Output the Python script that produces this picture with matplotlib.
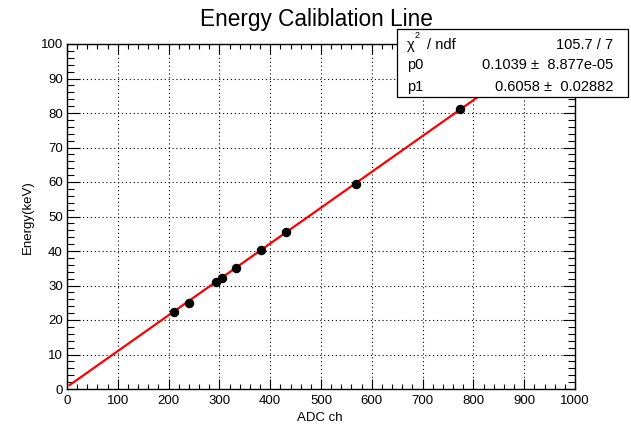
import numpy as np
import matplotlib.pyplot as plt
from matplotlib.patches import Rectangle
from matplotlib.ticker import MultipleLocator

plt.rcParams['font.family'] = ['Liberation Sans', 'DejaVu Sans']

# calibration points: ADC channel vs known energy
adc_ch = [211, 241, 293, 305, 333, 381, 432, 569, 773]
energy_kev = [22.3, 24.9, 31.0, 32.2, 35.1, 40.2, 45.4, 59.4, 81.1]

# fit result  E = p0 * ch + p1
p0, p0_err = 0.1039, 8.877e-05
p1, p1_err = 0.6058, 0.02882
chi2_text = "105.7 / 7"

W, H = 631, 430
fig = plt.figure(figsize=(W / 100, H / 100), dpi=100)


def fx(px):
    return px / W


def fy(py):
    return 1 - py / H


ax = fig.add_axes([fx(67), fy(389), (575 - 67) / W, (389 - 44) / H])
ax.set_xlim(0, 1000)
ax.set_ylim(0, 100)

ax.grid(True, which='major', color='black', linestyle=(0, (1, 2.5)), linewidth=0.8)

fit_x = np.linspace(5, 1000, 200)
ax.plot(fit_x, p0 * fit_x + p1, color='red', linewidth=1.6, zorder=3)
ax.plot(adc_ch, energy_kev, 'o', color='black', markersize=5.8, zorder=4)

ax.xaxis.set_major_locator(MultipleLocator(100))
ax.xaxis.set_minor_locator(MultipleLocator(20))
ax.yaxis.set_major_locator(MultipleLocator(10))
ax.yaxis.set_minor_locator(MultipleLocator(2))
ax.tick_params(axis='both', which='both', direction='in', top=True, right=True,
               labelsize=9.5, width=0.8, colors='black')
ax.tick_params(axis='x', which='major', length=7, pad=4)
ax.tick_params(axis='x', which='minor', length=3.5)
ax.tick_params(axis='y', which='major', length=9, pad=3)
ax.tick_params(axis='y', which='minor', length=5)
for s in ax.spines.values():
    s.set_linewidth(1.0)

fig.text(fx(320), fy(418), "ADC ch", ha='center', va='center', fontsize=9.5)
fig.text(fx(28), fy(217), "Energy(keV)", ha='center', va='center', rotation=90, fontsize=9.5)
fig.text(fx(316), fy(26), "Energy Caliblation Line", ha='center', va='baseline', fontsize=16.3)

# stats box
fig.patches.append(Rectangle((fx(397), fy(97)), (628 - 397) / W, (97 - 29) / H,
                             transform=fig.transFigure, facecolor='white',
                             edgecolor='black', linewidth=0.9, zorder=5))
rows = [
    ("χ   / ndf", chi2_text),
    ("p0", f"{p0:.4f} ±  {p0_err:.3e}"),
    ("p1", f"{p1:.4f} ±  {p1_err:.5f}"),
]
row_y = [45, 65, 87]
for (left, right), y in zip(rows, row_y):
    fig.text(fx(407), fy(y), left, ha='left', va='center', fontsize=10.5, zorder=6)
    fig.text(fx(613), fy(y), right, ha='right', va='center', fontsize=10.5, zorder=6)
fig.text(fx(417), fy(35), "2", ha='center', va='center', fontsize=6.5, zorder=6)

fig.savefig("out.png", dpi=100)
